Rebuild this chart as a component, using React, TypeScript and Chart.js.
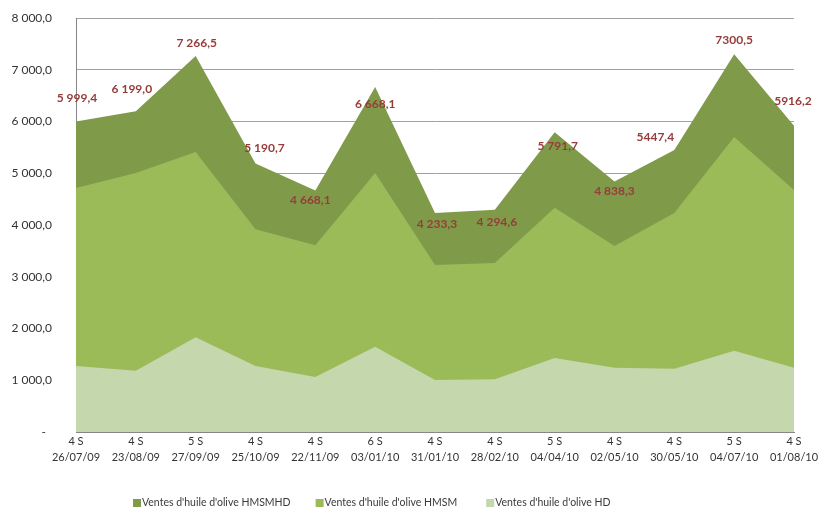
import React, { useEffect, useRef } from "react";
import { Chart, registerables } from "chart.js";

Chart.register(...registerables);

const weeks = ["4 S", "4 S", "5 S", "4 S", "4 S", "6 S", "4 S", "4 S", "5 S", "4 S", "4 S", "5 S", "4 S"];
const dates = ["26/07/09", "23/08/09", "27/09/09", "25/10/09", "22/11/09", "03/01/10", "31/01/10", "28/02/10", "04/04/10", "02/05/10", "30/05/10", "04/07/10", "01/08/10"];

const hmsmhd = [5999.4, 6199.0, 7266.5, 5190.7, 4668.1, 6668.1, 4233.3, 4294.6, 5791.7, 4838.3, 5447.4, 7300.5, 5916.2];
const hmsm = [4715, 5005, 5410, 3917, 3607, 5005, 3227, 3266, 4335, 3594, 4232, 5700, 4676];
const hd = [1275, 1185, 1830, 1275, 1063, 1649, 1005, 1018, 1430, 1243, 1224, 1572, 1243];

const totalLabels = ["5 999,4", "6 199,0", "7 266,5", "5 190,7", "4 668,1", "6 668,1", "4 233,3", "4 294,6", "5 791,7", "4 838,3", "5447,4", "7300,5", "5916,2"];
const labelOffsets: [number, number][] = [
  [1, -23], [-4, -22], [1, -13], [9, -15], [-5, 10], [0, 17], [2, 11],
  [2, 12], [3, 14], [0, 10], [-19, -13], [0, -14], [-1, -25],
];

const seriesNames = ["Ventes d'huile d'olive HMSMHD", "Ventes d'huile d'olive HMSM", "Ventes d'huile d'olive HD"];
const seriesColors = ["#7F9B4A", "#9BBB59", "#C5D7AC"];

function fmtAxis(v: number): string {
  if (v === 0) return "-  ";
  const [ip, dp] = v.toFixed(1).split(".");
  return ip.replace(/\B(?=(\d{3})+(?!\d))/g, " ") + "," + dp;
}

const labelPlugin = {
  id: "totalLabels",
  afterDatasetsDraw(chart: any) {
    const meta = chart.getDatasetMeta(0);
    const ctx = chart.ctx;
    ctx.save();
    ctx.font = "bold 12px Lato";
    ctx.fillStyle = "#963C3A";
    ctx.textAlign = "center";
    ctx.textBaseline = "middle";
    meta.data.forEach((pt: any, i: number) => {
      const [dx, dy] = labelOffsets[i];
      ctx.fillText(totalLabels[i], pt.x + dx, pt.y + dy);
    });
    ctx.restore();
  },
};

const legendPlugin = {
  id: "customLegend",
  afterDraw(chart: any) {
    const ctx = chart.ctx;
    const ds = chart.data.datasets;
    ctx.save();
    ctx.font = "10.5px Lato";
    ctx.textBaseline = "middle";
    ctx.textAlign = "left";
    let x = 133;
    const y = 503;
    ds.forEach((d: any, i: number) => {
      ctx.fillStyle = d.backgroundColor;
      ctx.fillRect(x, y - 4, 8, 8);
      ctx.fillStyle = "#3A3A3A";
      ctx.fillText(d.label, x + 9, y);
      x += 9 + ctx.measureText(d.label).width + (i === 0 ? 25 : 29);
    });
    ctx.restore();
  },
};

export default function App() {
  const ref = useRef<HTMLCanvasElement>(null);
  useEffect(() => {
    if (!ref.current) return;
    const chart = new Chart(ref.current, {
      type: "line",
      data: {
        labels: weeks.map((w, i) => [w, dates[i]]),
        datasets: [
          { label: seriesNames[0], data: hmsmhd, backgroundColor: seriesColors[0], borderColor: seriesColors[0], borderWidth: 0, fill: "origin", pointRadius: 0, tension: 0, order: 2 },
          { label: seriesNames[1], data: hmsm, backgroundColor: seriesColors[1], borderColor: seriesColors[1], borderWidth: 0, fill: "origin", pointRadius: 0, tension: 0, order: 1 },
          { label: seriesNames[2], data: hd, backgroundColor: seriesColors[2], borderColor: seriesColors[2], borderWidth: 0, fill: "origin", pointRadius: 0, tension: 0, order: 0 },
        ],
      },
      options: {
        animation: false,
        responsive: false,
        devicePixelRatio: 1,
        layout: { padding: { top: 18, right: 27, left: 0, bottom: 42 } },
        plugins: {
          legend: { display: false },
          tooltip: { enabled: false },
        },
        scales: {
          x: {
            offset: false,
            grid: { display: false, drawTicks: false },
            border: { display: true, color: "#868686", width: 1 },
            ticks: {
              autoSkip: false,
              maxRotation: 0,
              padding: 1,
              color: "#333",
              font: { family: "Lato", size: 11, lineHeight: 1.5 },
            },
            afterFit: (s: any) => { s.height = 40; s.paddingLeft = 0; s.paddingRight = 0; },
          },
          y: {
            min: 0,
            max: 8000,
            grid: { color: "#A0A0A0", drawTicks: false, lineWidth: 1 },
            border: { display: true, color: "#868686", width: 1 },
            ticks: {
              stepSize: 1000,
              padding: 24,
              color: "#333",
              font: { family: "Lato", size: 12 },
              callback: (v: any) => fmtAxis(Number(v)),
            },
            afterFit: (s: any) => { s.width = 76; s.paddingTop = 0; s.paddingBottom = 0; },
          },
        },
      },
      plugins: [labelPlugin, legendPlugin],
    });
    return () => chart.destroy();
  }, []);
  return (
    <div style={{ position: "absolute", left: 0, top: 0, width: 821, height: 514, background: "#fff" }}>
      <canvas ref={ref} width={821} height={514} />
    </div>
  );
}
